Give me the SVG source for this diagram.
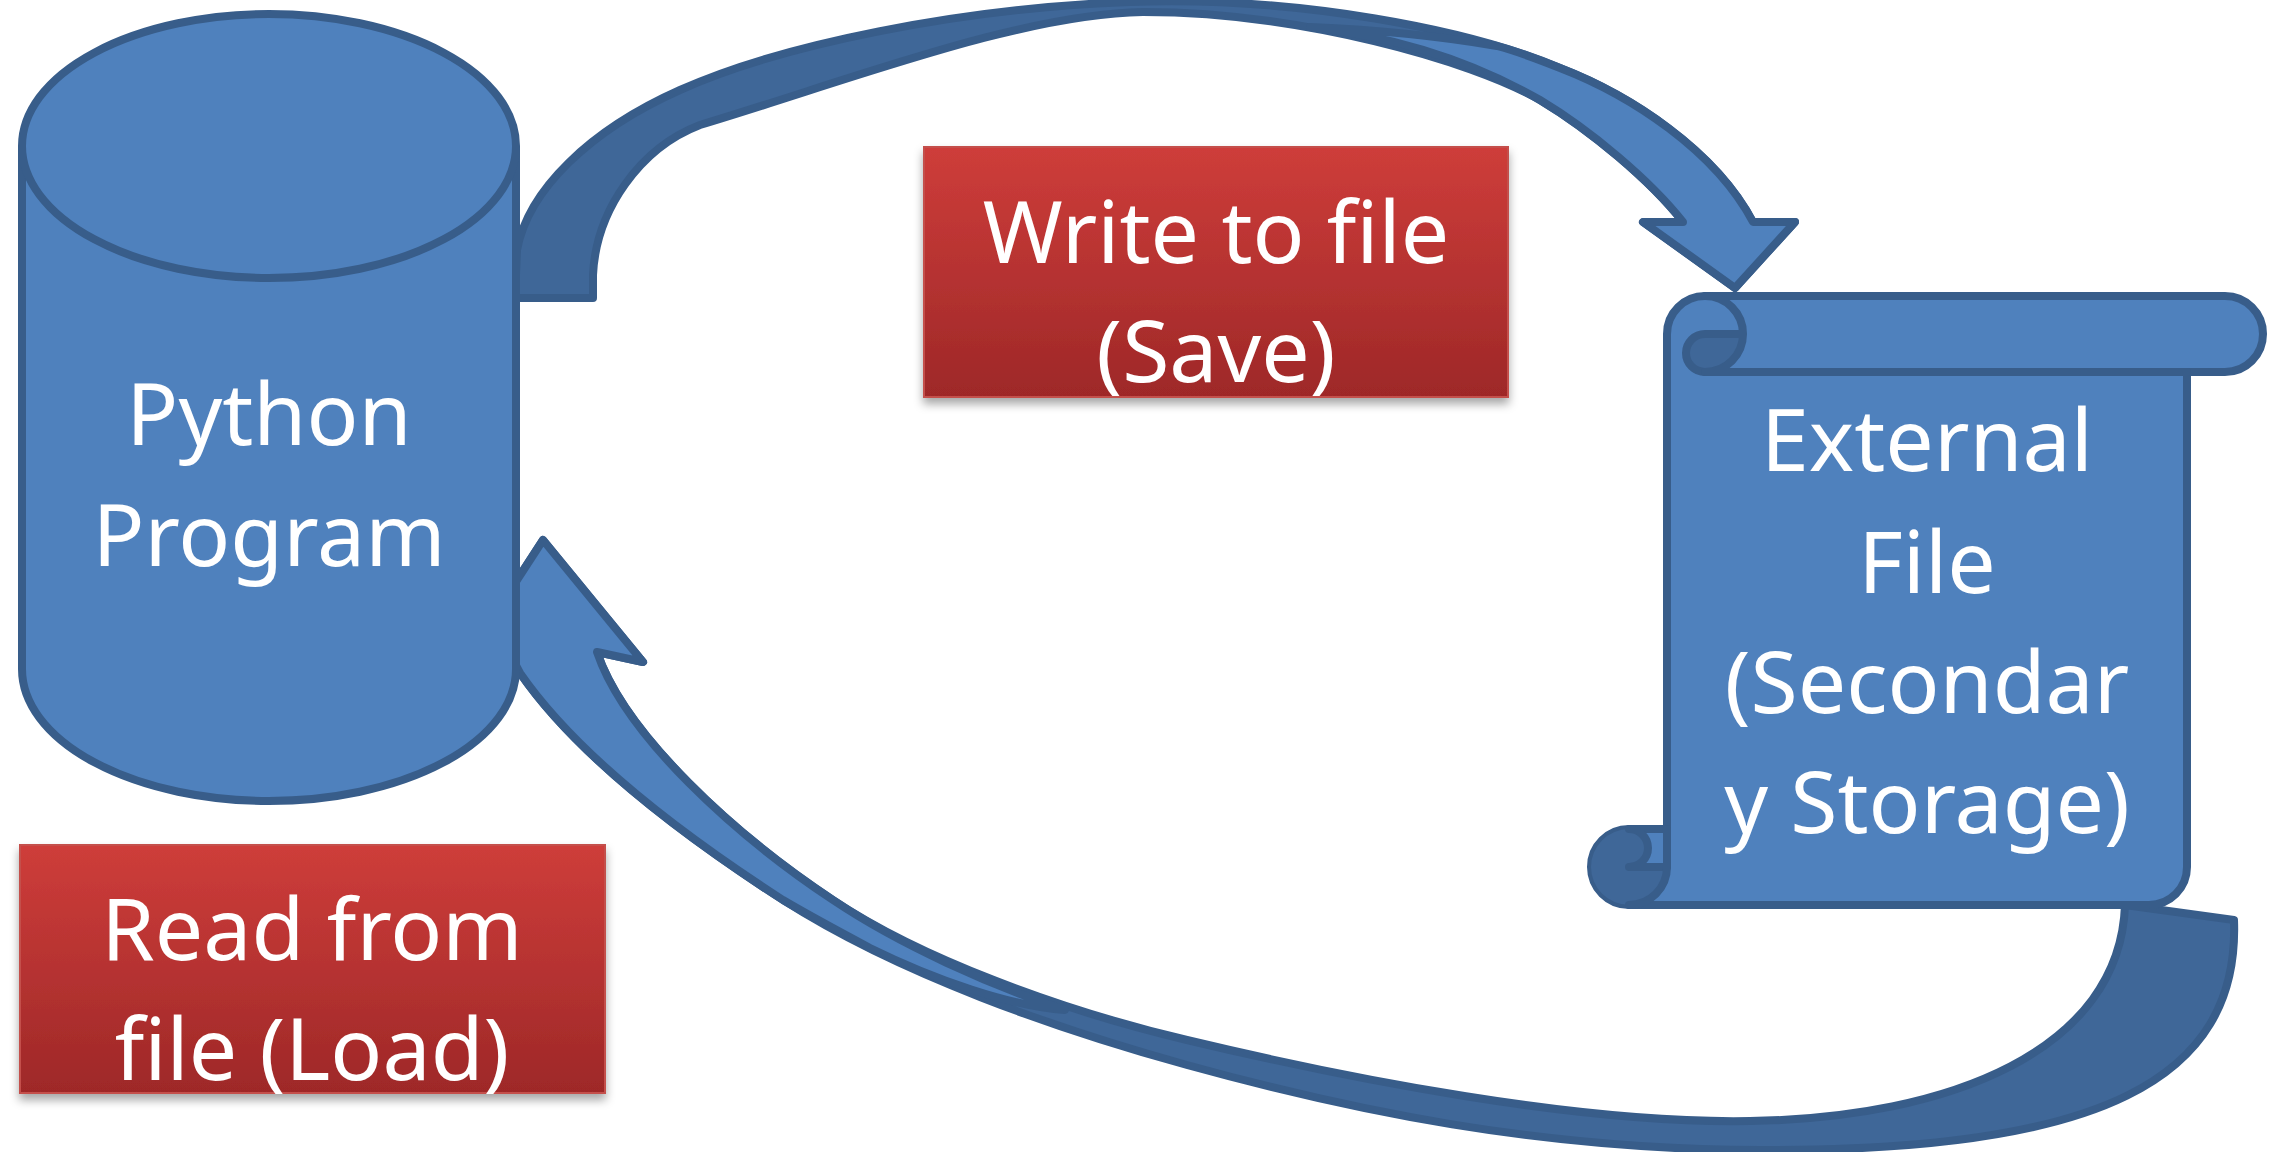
<svg xmlns="http://www.w3.org/2000/svg" width="2280" height="1152" viewBox="0 0 2280 1152">
<style>
.front{fill:#4f81bd;stroke:#385d8a;stroke-width:8;stroke-linejoin:round}
.back{fill:#3f6798;stroke:#385d8a;stroke-width:8;stroke-linejoin:round}
.line{fill:none;stroke:#385d8a;stroke-width:8;stroke-linejoin:round;stroke-linecap:round}
.dark{fill:#3f6798;stroke:none}
.t{font-family:"Noto Sans","Liberation Sans",sans-serif;font-size:86px;fill:#ffffff;text-anchor:middle}
.box{fill:url(#red);stroke:#c4504c;stroke-width:2;filter:url(#shadow)}
</style>
<defs>
<linearGradient id="red" x1="0" y1="0" x2="0" y2="1">
<stop offset="0" stop-color="#ce3d3a"/>
<stop offset="1" stop-color="#9e2828"/>
</linearGradient>
<filter id="shadow" x="-10%" y="-10%" width="120%" height="130%">
<feDropShadow dx="0" dy="6" stdDeviation="5" flood-color="#000" flood-opacity="0.35"/>
</filter>
</defs>
<rect width="2280" height="1152" fill="#ffffff"/>

<g id="connectors">
<g id="arrow-save">
<path class="back" d="M 593,298 L 515,298 L 517,250 C 528,190 590,130 680,90 C 780,45 960,8 1130,2 C 1300,-4 1470,30 1560,68 C 1630,95 1715,150 1753,222 L 1795,222 L 1735,288 L 1643,222 L 1683,222 C 1650,180 1590,130 1540,100 C 1470,60 1300,12 1143,12 C 1020,14 850,80 700,125 C 640,148 596,210 593,275 Z"/>
<path class="front" d="M 1310,27 C 1380,30 1445,37 1497,46 C 1520,52 1540,60 1560,68 C 1630,95 1715,150 1753,222 L 1795,222 L 1735,288 L 1643,222 L 1683,222 C 1650,180 1590,130 1540,100 C 1470,60 1390,36 1310,27 Z"/>
</g>
<g id="arrow-load">
<path class="back" d="M 597,652 C 625,735 735,835 833,900 C 920,958 1060,1010 1187,1040 C 1350,1079 1580,1124 1750,1121 C 1950,1118 2120,1050 2125,905 L 2234,920 C 2240,1080 2100,1152 1760,1150 C 1540,1150 1350,1110 1187,1065 C 1060,1030 900,975 783,900 C 690,840 580,760 520,673 L 505,645 L 465,660 L 543,540 L 643,662 Z"/>
<path class="front" d="M 597,652 C 625,735 735,835 833,900 C 900,945 990,985 1065,1010 C 1010,1006 935,980 870,948 C 840,932 810,916 783,900 C 690,840 580,760 520,673 L 505,645 L 465,660 L 543,540 L 643,662 Z"/>
</g>
</g>

<g id="node-python">
<path class="front" d="M 22,146 L 22,669 A 247 132 0 0 0 516,669 L 516,146"/>
<ellipse class="front" cx="269" cy="146" rx="247" ry="132"/>
<text class="t" x="269" y="445">Python</text>
<text class="t" x="269" y="566">Program</text>
</g>

<g id="node-file">
<path class="front" d="M 1667,829 L 1667,334 A 38 38 0 0 1 1705,296 L 2225,296 A 38 38 0 0 1 2225,372 L 2187,372 L 2187,867 A 38 38 0 0 1 2149,905 L 1629,905 A 38 38 0 0 1 1629,829 Z"/>
<path class="dark" d="M 1743,334 A 38 38 0 0 1 1705,372 A 19 19 0 0 1 1705,334 Z"/>
<path class="dark" d="M 1667,867 A 38 38 0 1 1 1629,829 A 19 19 0 0 1 1629,867 Z"/>
<path class="line" d="M 1705,296 A 38 38 0 0 1 1705,372 A 19 19 0 0 1 1705,334 L 1743,334"/>
<path class="line" d="M 2187,372 L 1705,372"/>
<path class="line" d="M 1629,829 A 19 19 0 0 1 1629,867 L 1667,867"/>
<path class="line" d="M 1629,905 A 38 38 0 0 0 1667,867 L 1667,829"/>
<text class="t" x="1927" y="471">External</text>
<text class="t" x="1927" y="593">File</text>
<text class="t" x="1927" y="713">(Secondar</text>
<text class="t" x="1927" y="833">y Storage)</text>
</g>

<g id="label-save">
<rect class="box" x="924" y="147" width="584" height="250"/>
<text class="t" x="1216" y="263">Write to file</text>
<text class="t" x="1216" y="382">(Save)</text>
</g>

<g id="label-load">
<rect class="box" x="20" y="845" width="585" height="248"/>
<text class="t" x="312" y="960">Read from</text>
<text class="t" x="312" y="1080">file (Load)</text>
</g>
</svg>
